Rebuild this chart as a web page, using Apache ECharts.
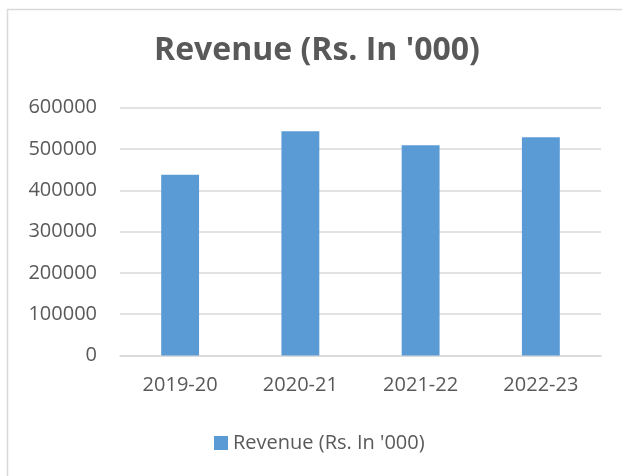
<!DOCTYPE html>
<html>
<head>
    <meta charset="UTF-8">
    <title>Revenue</title>
    <style>
        html, body { margin: 0; padding: 0; background: #fff; }
        #chart { width: 622px; height: 476px; }
    </style>
</head>
<body>
    <div id="chart"></div>
    <script src="https://cdn.jsdelivr.net/npm/echarts@6/dist/echarts.min.js"></script>
    <script>
    var years = ['2019-20', '2020-21', '2021-22', '2022-23'];
    var revenue = [437500, 543000, 509000, 528500];
    var seriesName = "Revenue (Rs. In '000)";

    var textColor = '#595959';
    var fontName = 'Open Sans';

    var chart = echarts.init(document.getElementById('chart'));
    var option = {
        animation: false,
        title: {
            text: seriesName,
            left: 312,
            textAlign: 'center',
            top: 30,
            textStyle: {
                fontFamily: fontName,
                fontSize: 32,
                fontWeight: 'bold',
                color: textColor
            }
        },
        // chart frame (only top/left edges are in view)
        graphic: [{
            type: 'rect',
            shape: { x: 7.5, y: 9.5, width: 700, height: 600 },
            style: { fill: 'none', stroke: '#d9d9d9', lineWidth: 1.5 },
            silent: true
        }],
        legend: {
            data: [seriesName],
            left: 209,
            top: 428,
            itemWidth: 14,
            itemHeight: 14,
            itemGap: 6,
            icon: 'rect',
            textStyle: {
                fontFamily: fontName,
                fontSize: 20,
                color: textColor
            }
        },
        grid: {
            left: 120,
            right: 21,
            top: 107.7,
            bottom: 120.5,
            containLabel: false
        },
        xAxis: {
            type: 'category',
            data: years,
            axisLine: { lineStyle: { color: '#d9d9d9', width: 1.5 } },
            axisTick: { show: false },
            axisLabel: {
                fontFamily: fontName,
                fontSize: 20,
                color: textColor,
                margin: 20
            }
        },
        yAxis: {
            type: 'value',
            min: 0,
            max: 600000,
            interval: 100000,
            axisLine: { show: false },
            axisTick: { show: false },
            splitLine: { lineStyle: { color: '#d9d9d9', width: 1.5 } },
            axisLabel: {
                fontFamily: fontName,
                fontSize: 20,
                color: textColor,
                margin: 23,
                formatter: function (v) { return String(v); }
            }
        },
        series: [{
            name: seriesName,
            type: 'bar',
            data: revenue,
            barWidth: '31.5%',
            itemStyle: { color: '#5b9bd5' }
        }]
    };
    chart.setOption(option);
    </script>
</body>
</html>
